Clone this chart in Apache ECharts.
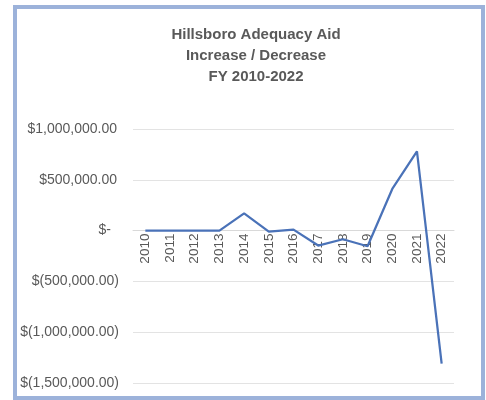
<!DOCTYPE html>
<html>
<head>
<meta charset="utf-8">
<script src="https://cdn.jsdelivr.net/npm/echarts@6/dist/echarts.min.js"></script>
<style>
html,body{margin:0;padding:0;background:#fff;}
#chart{width:486px;height:400px;}
</style>
</head>
<body>
<div id="chart"></div>
<script>
const years = ['2010','2011','2012','2013','2014','2015','2016','2017','2018','2019','2020','2021','2022'];
const aidChange = [0, 0, 0, 0, 170000, -10000, 10000, -147000, -85000, -154000, 410000, 780000, -1310000];
const titleLines = ['Hillsboro Adequacy Aid', 'Increase / Decrease', 'FY 2010-2022'];
const yMin = -1500000, yMax = 1000000, yStep = 500000;

function fmtMoney(v) {
  if (v === 0) return '{z|$-}';
  const s = Math.abs(v).toLocaleString('en-US', {minimumFractionDigits: 2, maximumFractionDigits: 2});
  return v < 0 ? '{n|$(' + s + ')}' : '{p|$' + s + '}';
}

const gridTop = 129, gridBottom = 17, H = 400;
const plotH = H - gridTop - gridBottom;
// place the category axis at the zero value (Excel style)
const zeroOffset = -plotH * (0 - yMin) / (yMax - yMin);

const chart = echarts.init(document.getElementById('chart'));
chart.setOption({
  backgroundColor: '#ffffff',
  animation: false,
  title: {
    text: titleLines.join('\n'),
    left: 251,
    textAlign: 'center',
    top: 19,
    textStyle: {
      fontFamily: 'Liberation Sans',
      fontSize: 15,
      fontWeight: 'bold',
      color: '#595959',
      lineHeight: 21
    }
  },
  graphic: [{
    type: 'rect',
    shape: {x: 15, y: 7, width: 468, height: 391},
    style: {fill: 'none', stroke: '#9cb2da', lineWidth: 4},
    z: 100
  }],
  grid: {left: 133, right: 32, top: gridTop, bottom: gridBottom, outerBoundsMode: 'none', containLabel: false},
  xAxis: {
    type: 'category',
    data: years,
    boundaryGap: true,
    offset: zeroOffset,
    axisLine: {onZero: false, lineStyle: {color: '#d9d9d9'}},
    axisTick: {show: false},
    axisLabel: {
      rotate: 90,
      color: '#595959',
      fontFamily: 'Liberation Sans',
      fontSize: 13.5,
      margin: 3
    }
  },
  yAxis: {
    type: 'value',
    min: yMin,
    max: yMax,
    interval: yStep,
    axisLine: {show: false},
    axisTick: {show: false},
    splitLine: {lineStyle: {color: '#e3e3e3'}},
    axisLabel: {
      margin: 14,
      formatter: fmtMoney,
      rich: {
        z: {color: '#595959', fontFamily: 'Liberation Sans', fontSize: 14, padding: [0, 8, 0, 0]},
        p: {color: '#595959', fontFamily: 'Liberation Sans', fontSize: 14, padding: [0, 2, 0, 0]},
        n: {color: '#595959', fontFamily: 'Liberation Sans', fontSize: 14}
      }
    }
  },
  series: [{
    type: 'line',
    data: aidChange,
    showSymbol: false,
    symbol: 'none',
    lineStyle: {color: '#4a72b8', width: 2.25},
    z: 5
  }]
});
</script>
</body>
</html>
